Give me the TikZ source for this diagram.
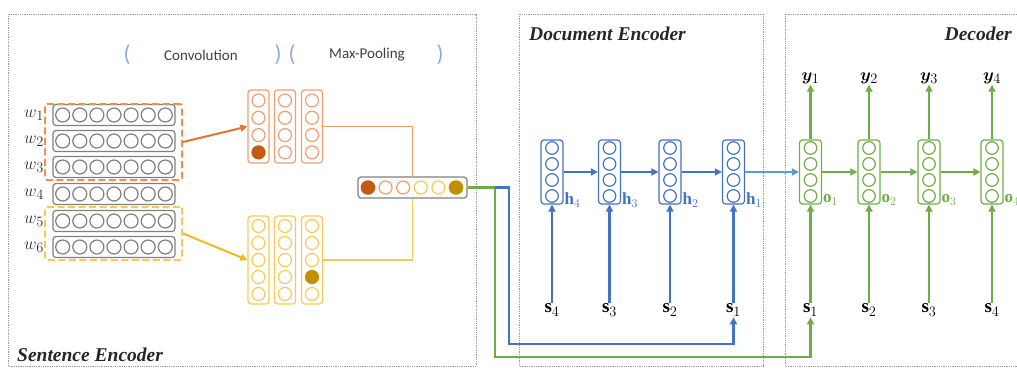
\documentclass[tikz,border=0pt]{standalone}
\usepackage{fontspec}
\usepackage{amsmath}
\usepackage{bm}
\setmainfont{Liberation Serif}
\newfontfamily\calfont{Carlito}
\usetikzlibrary{arrows.meta,calc}

\definecolor{framegray}{HTML}{9A9A9A}
\definecolor{wordgray}{HTML}{808080}
\definecolor{convor}{HTML}{EE9E70}
\definecolor{dashor}{HTML}{EE9050}
\definecolor{arrowor}{HTML}{E2742C}
\definecolor{darkor}{HTML}{C55A11}
\definecolor{convye}{HTML}{F8C95A}
\definecolor{arrowye}{HTML}{F2B824}
\definecolor{darkye}{HTML}{C09000}
\definecolor{docblue}{HTML}{4472C4}
\definecolor{lightblue}{HTML}{5B9BD5}
\definecolor{decgreen}{HTML}{70AD47}
\definecolor{bracketblue}{HTML}{8FAADC}

\tikzset{
  frame/.style={draw=framegray, densely dotted, line width=0.8pt},
  title/.style={font=\fontsize{19.5}{22}\selectfont\bfseries\itshape, text=black!85, inner sep=0pt},
  caption/.style={font=\calfont\fontsize{15}{17}\selectfont, text=black!75, inner sep=0pt},
  paren/.style={font=\calfont\fontsize{23}{25}\selectfont, text=bracketblue, inner sep=0pt},
  wordrow/.style={draw=wordgray, line width=1.2pt, rounded corners=3pt, minimum width=122pt, minimum height=21pt, inner sep=0pt},
  wordlab/.style={font=\fontsize{19}{21}\selectfont, text=black!80, inner sep=0pt},
  group/.style={dashed, dash pattern=on 7pt off 3.5pt, line width=2pt, rounded corners=2pt, minimum width=137pt, inner sep=0pt},
  col/.style={line width=1.2pt, rounded corners=3pt, minimum width=21pt, inner sep=0pt},
  ring/.style={line width=1.2pt},
  arr/.style={-{Triangle[length=7pt,width=7pt]}},
  seq/.style={line width=2.6pt},
  slab/.style={font=\fontsize{19}{21}\selectfont, inner sep=1pt},
  hlab/.style={font=\fontsize{17}{19}\selectfont, inner sep=0pt, anchor=west},
}

\begin{document}
\begin{tikzpicture}[x=1pt,y=-1pt]
\useasboundingbox (0,0) rectangle (1017,369);

% dotted frames of the three parts
\draw[frame] (8,14) rectangle (476,366);
\draw[frame] (519,14) rectangle (763,366);
\draw[frame] (1017,14) -- (785,14) -- (785,366) -- (1017,366);

\node[title, anchor=west] (tdoc) at (529,34) {Document Encoder};
\node[title, anchor=east] (tdec) at (1012,34) {Decoder};
\node[title, anchor=west] (tsen) at (17,355) {Sentence Encoder};

% operation captions
\node[paren] (p1) at (127,55) {(};
\node[caption] (cconv) at (201,55) {Convolution};
\node[paren] (p2) at (278,55) {)};
\node[paren] (p3) at (292,55) {(};
\node[caption] (cpool) at (367,55) {Max-Pooling};
\node[paren] (p4) at (440,55) {)};

% word vectors
\foreach \i/\y in {1/115,2/141,3/167,4/194,5/221,6/247}{
  \node[wordrow] (w\i) at (114,\y) {};
  \foreach \k in {0,...,6}{
    \draw[wordgray, ring] ({114+(\k-3)*17.1},\y) circle (7);
  }
  \node[wordlab] (lw\i) at (34,\y) {$w_{\i}$};
}

% filter windows
\node[group, draw=dashor, minimum height=76pt] (og) at (113.5,142) {};
\node[group, draw=convye, minimum height=53pt] (yg) at (113.5,233.5) {};

% convolution feature maps (orange)
\foreach \j/\x in {1/258.5,2/285,3/312}{
  \node[col, draw=convor, minimum height=73pt] (oc\j) at (\x,126.5) {};
  \foreach \k in {0,...,3}{
    \draw[convor, ring] (\x,{100.5+\k*17.3}) circle (6.5);
  }
}
\fill[darkor] (258.5,152.4) circle (7);

% convolution feature maps (yellow)
\foreach \j/\x in {1/258.5,2/285,3/312}{
  \node[col, draw=convye, minimum height=88pt] (yc\j) at (\x,260) {};
  \foreach \k in {0,...,4}{
    \draw[convye, ring] (\x,{226+\k*17}) circle (6.5);
  }
}
\fill[darkye] (312,277) circle (7);

% pooled sentence vector
\node[wordrow, minimum width=109pt] (pv) at (412.5,187.5) {};
\fill[darkor] (368,187.5) circle (7.3);
\draw[convor, ring] (385.6,187.5) circle (6.5);
\draw[convor, ring] (403.2,187.5) circle (6.5);
\draw[convye, ring] (420.8,187.5) circle (6.5);
\draw[convye, ring] (438.4,187.5) circle (6.5);
\fill[darkye] (456,187.5) circle (7.3);

% convolution and pooling connectors
\draw[arr, arrowor, line width=2pt] (og.east) -- (oc1.west);
\draw[arr, arrowye, line width=2pt] (yg.east) -- (yc1.west);
\draw[convor, line width=1.2pt] (oc3.east) -| (pv.north);
\draw[convye, line width=1.2pt] (yc3.east) -| (pv.south);

% document encoder
\foreach \n/\x/\s in {4/552/e4,3/609.5/e3,2/670/e2,1/733.5/e1}{
  \node[col, draw=docblue, minimum width=22pt, minimum height=64pt] (\s) at (\x,172) {};
  \foreach \k in {0,...,3}{
    \draw[docblue, ring] (\x,{148+\k*16}) circle (6.3);
  }
  \node[hlab, text=docblue] (h\n) at ({\x+12.5},200) {$\mathbf{h}_{\n}$};
  \node[slab] (es\n) at (\x,310) {$\mathbf{s}_{\n}$};
  \draw[arr, seq, docblue] (es\n.north) -- (\s.south);
}
\draw[arr, seq, docblue] (e4.east) -- (e3.west);
\draw[arr, seq, docblue] (e3.east) -- (e2.west);
\draw[arr, seq, docblue] (e2.east) -- (e1.west);

% decoder
\foreach \n/\x in {1/810.5,2/869,3/929,4/992}{
  \node[col, draw=decgreen, minimum width=22pt, minimum height=64pt] (d\n) at (\x,172) {};
  \foreach \k in {0,...,3}{
    \draw[decgreen, ring] (\x,{148+\k*16}) circle (6.3);
  }
  \node[hlab, text=decgreen] (o\n) at ({\x+12.5},200) {$\mathbf{o}_{\n}$};
  \node[slab] (ds\n) at (\x,310) {$\mathbf{s}_{\n}$};
  \node[slab] (y\n) at (\x,78) {$\bm{y}_{\n}$};
  \draw[arr, seq, decgreen] (ds\n.north) -- (d\n.south);
  \draw[arr, seq, decgreen] (d\n.north) -- (y\n.south);
}
\draw[arr, seq, decgreen] (d1.east) -- (d2.west);
\draw[arr, seq, decgreen] (d2.east) -- (d3.west);
\draw[arr, seq, decgreen] (d3.east) -- (d4.west);
\draw[arr, lightblue, line width=2pt] (e1.east) -- (d1.west);

% sentence vector fed to both encoders' first inputs
\coordinate (split) at (495,187.5);
\coordinate (gdown) at (495,357);
\coordinate (bright) at (509,187.5);
\coordinate (bdown) at (509,344);
\draw[arr, seq, decgreen] (pv.east) -- (split) -- (gdown) -| (ds1.south);
\draw[arr, seq, docblue] (split) -- (bright) -- (bdown) -| (es1.south);
\end{tikzpicture}
\end{document}
